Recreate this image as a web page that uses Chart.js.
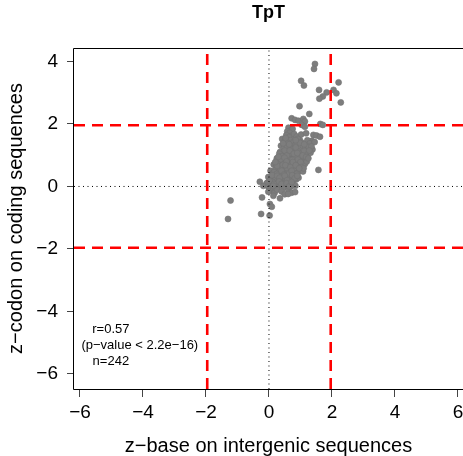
<!DOCTYPE html>
<html><head><meta charset="utf-8">
<script src="https://cdn.jsdelivr.net/npm/chart.js@4/dist/chart.umd.min.js"></script>
<style>html,body{margin:0;padding:0;background:#fff;overflow:hidden}</style>
</head><body>
<canvas id="c" width="463" height="456" style="display:block;width:463px;height:456px"></canvas>
<script>
const chartTitle = 'TpT';
const xTitle = 'z\u2212base on intergenic sequences';
const yTitle = 'z\u2212codon on coding sequences';
const xTicks = [-6, -4, -2, 0, 2, 4, 6];
const yTicks = [-6, -4, -2, 0, 2, 4];
const xRange = [-6.19, 6.16];
const yRange = [-6.48, 4.43];
const zCut = 1.96;
const statTexts = ['r=0.57', '(p\u2212value < 2.2e\u221216)', 'n=242'];

const upperTail = [
 [1.46,3.92],[1.43,3.76],[1.02,3.38],[1.11,3.23],[2.21,3.33],[1.59,3.09],[1.83,3.01],[2.05,3.09],
 [2.14,2.98],[1.71,2.88],[1.60,2.81],[2.28,2.69],[0.97,2.57],[1.28,2.32],[1.63,2.00],[1.71,1.97],
 [0.72,2.18],[0.83,2.13],[0.94,2.10],[1.09,2.16],[1.14,2.08],[1.04,1.97],[1.14,1.91],[0.67,1.86],
 [0.61,1.70],[1.41,1.65],[1.51,1.63],[1.62,1.59],[0.98,1.49],[1.36,1.46],[1.57,0.53]
];
const lowerTail = [
 [-1.22,-0.45],[-1.30,-1.04],[-0.22,-0.35],[-0.25,-0.88],[0.02,-0.93],[0.03,-0.56],[0.09,-0.65],
 [0.35,-0.38],[0.61,-0.24],[0.83,-0.18],[-0.29,0.15],[-0.07,0.10],[0.03,-0.06],[-0.18,0.02],
 [-0.02,-0.01],[0.14,0.02],[-0.02,-0.17]
];
const core = [
 [0.62,1.88],[0.70,1.80],[0.58,1.76],[0.75,1.84],[0.66,1.72],
 [0.55,1.64],[0.72,1.62],[0.80,1.68],[0.63,1.58],[0.88,1.60],[1.02,1.66],[1.18,1.70],
 [0.42,1.52],[0.50,1.45],[0.68,1.48],[0.78,1.42],[0.92,1.52],[1.05,1.40],[1.22,1.48],[1.30,1.38],[1.45,1.42],[0.60,1.38],
 [0.38,1.30],[0.47,1.22],[0.58,1.28],[0.70,1.25],[0.83,1.32],[0.95,1.20],[1.08,1.30],[1.15,1.22],[1.26,1.27],[1.38,1.18],[0.88,1.35],[0.75,1.18],
 [0.35,1.10],[0.45,1.02],[0.55,1.12],[0.62,1.05],[0.73,1.10],[0.85,1.00],[0.93,1.12],[1.02,1.05],[1.12,1.14],[1.22,1.02],[1.32,1.08],[0.50,1.15],[0.68,0.98],[0.98,0.96],
 [0.25,0.90],[0.33,0.82],[0.42,0.93],[0.52,0.85],[0.60,0.92],[0.70,0.80],[0.78,0.90],[0.88,0.84],[0.96,0.92],[1.05,0.82],[1.15,0.88],[0.45,0.78],[0.65,0.86],[0.83,0.95],[1.10,0.95],
 [0.15,0.70],[0.22,0.62],[0.32,0.72],[0.40,0.65],[0.48,0.74],[0.56,0.62],[0.64,0.70],[0.72,0.66],[0.80,0.74],[0.88,0.62],[0.97,0.70],[1.06,0.66],[1.14,0.72],[0.36,0.60],[0.60,0.78],[0.92,0.77],
 [0.05,0.50],[0.12,0.42],[0.20,0.52],[0.28,0.45],[0.36,0.55],[0.44,0.44],[0.52,0.52],[0.60,0.46],[0.68,0.55],[0.76,0.43],[0.84,0.50],[0.92,0.45],[1.00,0.54],[1.08,0.48],[0.30,0.38],[0.58,0.58],[0.80,0.58],
 [-0.02,0.30],[0.06,0.24],[0.14,0.33],[0.22,0.26],[0.30,0.32],[0.38,0.22],[0.46,0.30],[0.54,0.25],[0.62,0.34],[0.70,0.24],[0.78,0.30],[0.86,0.22],[0.94,0.28],[0.42,0.36],[0.18,0.20],[0.66,0.18],
 [-0.05,0.12],[0.05,0.05],[0.12,0.14],[0.20,0.06],[0.28,0.12],[0.36,0.03],[0.44,0.10],[0.52,0.04],[0.60,0.13],[0.68,0.06],[0.76,0.10],[0.84,0.02],[0.24,-0.02],[0.48,-0.04],
 [0.08,-0.12],[0.18,-0.20],[0.26,-0.10],[0.40,-0.16],[0.50,-0.25],[0.62,-0.10],[0.72,-0.20],[0.14,-0.30],[0.70,0.00],
 [0.33,1.05],[0.41,0.97],[0.57,0.99],[0.66,1.15],[0.79,1.05],[0.90,1.07],[1.07,0.99],[1.18,0.94],
 [0.28,0.80],[0.38,0.87],[0.49,0.92],[0.56,0.80],[0.74,0.85],[0.92,0.86],[1.00,0.78],[1.20,0.80],
 [0.26,0.66],[0.44,0.69],[0.52,0.68],[0.68,0.62],[0.76,0.78],[0.85,0.68],[1.02,0.62],[1.10,0.58],
 [0.16,0.46],[0.24,0.40],[0.40,0.50],[0.48,0.38],[0.64,0.42],[0.72,0.50],[0.88,0.40],[0.96,0.58],
 [0.10,0.36],[0.26,0.34],[0.34,0.28],[0.50,0.34],[0.58,0.20],[0.74,0.36],[0.82,0.26],[0.90,0.34],
 [0.02,0.18],[0.16,0.08],[0.32,0.16],[0.40,0.08],[0.56,0.10],[0.64,0.00],[0.72,0.14],
 [0.85,1.25],[0.64,1.35],[0.98,1.40],[1.12,1.35],[0.45,1.38],[0.53,1.55],[0.85,1.48],[1.35,1.28],
 [0.30,0.95],[0.20,0.78],[1.25,0.90],[1.28,1.15]
];

const FONT = "'Liberation Sans', Arial, Helvetica, sans-serif";
const toPts = arr => arr.map(p => ({x: p[0], y: p[1]}));
const fmt = v => (v < 0 ? '\u2212' + Math.abs(v) : String(v));

const vline = (x, color, width, dash) => ({
  data: [{x: x, y: yRange[0]}, {x: x, y: yRange[1]}],
  showLine: true, pointRadius: 0, pointBorderWidth: 0, pointHoverRadius: 0,
  borderColor: color, borderWidth: width,
  borderDash: dash, borderCapStyle: 'butt', fill: false, order: 1
});
const hline = (y, color, width, dash) => ({
  data: [{x: xRange[0], y: y}, {x: xRange[1], y: y}],
  showLine: true, pointRadius: 0, pointBorderWidth: 0, pointHoverRadius: 0,
  borderColor: color, borderWidth: width,
  borderDash: dash, borderCapStyle: 'butt', fill: false, order: 1
});

const boxPlugin = {
  id: 'boxAndText',
  beforeDatasetsDraw(chart) {
    const {ctx, chartArea: a} = chart;
    ctx.save();
    ctx.fillStyle = '#fff';
    ctx.fillRect(a.left + 1, a.top + 1, chart.width - a.left, a.bottom - a.top - 1);
    ctx.restore();
  },
  afterDraw(chart) {
    const {ctx, chartArea: a, scales} = chart;
    ctx.save();
    const L = Math.round(a.left) - 0.5, T = Math.round(a.top) + 0.5, B = Math.round(a.bottom) + 0.5;
    ctx.strokeStyle = '#000';
    ctx.lineWidth = 1;
    ctx.beginPath();
    ctx.moveTo(chart.width + 2, T);
    ctx.lineTo(L, T);
    ctx.lineTo(L, B);
    ctx.lineTo(chart.width + 2, B);
    ctx.stroke();
    ctx.fillStyle = '#000';
    ctx.font = '13px ' + FONT;
    ctx.textAlign = 'center';
    ctx.textBaseline = 'middle';
    const pos = [[-5.02, -4.56], [-4.1, -5.09], [-5.02, -5.60]];
    statTexts.forEach((t, i) => {
      ctx.fillText(t, scales.x.getPixelForValue(pos[i][0]), scales.y.getPixelForValue(pos[i][1]));
    });
    ctx.restore();
  }
};

new Chart(document.getElementById('c'), {
  type: 'scatter',
  data: {
    datasets: [
      {data: toPts(upperTail.concat(core, lowerTail)), backgroundColor: '#7d7d7d',
       borderColor: 'rgba(115,115,115,0.6)', borderWidth: 1, pointRadius: 3, pointHoverRadius: 3, order: 2},
      vline(0, '#000', 1, [1, 3.5]),
      hline(0, '#000', 1, [1, 3.5]),
      vline(-zCut, '#ff0000', 2.6, [11, 7]),
      vline(zCut, '#ff0000', 2.6, [11, 7]),
      hline(-zCut, '#ff0000', 2.6, [11, 7]),
      hline(zCut, '#ff0000', 2.6, [11, 7])
    ]
  },
  options: {
    responsive: false,
    animation: false,
    devicePixelRatio: 1,
    layout: {padding: 0, autoPadding: false},
    plugins: {
      legend: {display: false},
      tooltip: {enabled: false},
      title: {display: true, text: chartTitle, fullSize: false, color: '#000',
        font: {family: FONT, size: 18, weight: 'bold', lineHeight: 1.2},
        padding: {top: 2, bottom: 24.4}}
    },
    scales: {
      x: {
        type: 'linear', min: xRange[0], max: xRange[1],
        afterBuildTicks: s => { s.ticks = xTicks.map(v => ({value: v})); },
        afterFit: s => { s.height = 67; s.paddingLeft = 0; s.paddingRight = 0; },
        border: {display: false},
        grid: {drawOnChartArea: false, drawTicks: true, tickLength: 8, color: '#444', lineWidth: 1},
        ticks: {color: '#000', font: {family: FONT, size: 19}, padding: 4, maxRotation: 0, callback: fmt},
        title: {display: true, text: xTitle, color: '#000', font: {family: FONT, size: 20, lineHeight: 1}, padding: {top: 0, bottom: 0}}
      },
      y: {
        type: 'linear', min: yRange[0], max: yRange[1],
        afterBuildTicks: s => { s.ticks = yTicks.map(v => ({value: v})); },
        afterFit: s => { s.width = 74; s.paddingTop = 0; s.paddingBottom = 0; },
        border: {display: false},
        grid: {drawOnChartArea: false, drawTicks: true, tickLength: 7, color: '#444', lineWidth: 1},
        ticks: {color: '#000', font: {family: FONT, size: 19}, padding: 9, callback: fmt},
        title: {display: true, text: yTitle, color: '#000', font: {family: FONT, size: 20, lineHeight: 1}, padding: {top: 6, bottom: 0}}
      }
    }
  },
  plugins: [boxPlugin]
});
</script>
</body></html>
